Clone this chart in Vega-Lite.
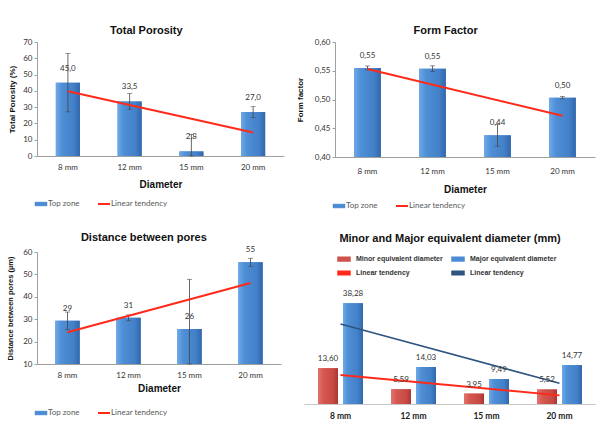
{
  "$schema": "https://vega.github.io/schema/vega-lite/v6.json",
  "padding": {"left": 6, "top": 25, "right": 0, "bottom": 0},
  "background": "#ffffff",
  "config": {
    "font": "Liberation Sans",
    "view": {"stroke": null},
    "axis": {"grid": false, "labelFont": "Lato", "labelFontSize": 8, "labelColor": "#333", "domainColor": "#a0a0a0", "tickColor": "#a0a0a0", "tickSize": 3, "titleFont": "Liberation Sans", "titleFontWeight": "bold", "titleColor": "#111"},
    "legend": {"labelFont": "Lato", "labelColor": "#595959", "labelFontSize": 8},
    "title": {"font": "Liberation Sans", "fontWeight": "bold", "fontSize": 11, "color": "#111"}
  },
  "resolve": {"scale": {"color": "independent"}, "legend": {"color": "independent"}},
  "spacing": 22,
  "vconcat": [
    {
      "spacing": 12,
      "resolve": {"scale": {"color": "independent"}, "legend": {"color": "independent"}},
      "hconcat": [
        {
          "width": 247, "height": 114,
          "title": {"text": "Total Porosity", "offset": 2, "frame": "bounds"},
          "data": {"values": [
            {"d": "8 mm", "v": 45.0, "e": 17.9},
            {"d": "12 mm", "v": 33.5, "e": 4.8},
            {"d": "15 mm", "v": 2.8, "e": 10.5},
            {"d": "20 mm", "v": 27.0, "e": 3.3}
          ]},
          "transform": [{"calculate": "replace(format(datum.v, '.1f'), '.', ',')", "as": "lab"}],
          "encoding": {
            "x": {"field": "d", "type": "nominal", "sort": null,
              "scale": {"domain": ["8 mm", "12 mm", "15 mm", "20 mm"], "paddingInner": 0.61, "paddingOuter": 0.305},
              "axis": {"title": "Diameter", "titleFontSize": 10, "labelAngle": 0, "ticks": false, "labelPadding": 7, "titlePadding": 8}},
            "y": {"field": "v", "type": "quantitative", "scale": {"domain": [0, 70], "clamp": true},
                  "axis": {"title": "Total Porosity (%)", "titleFontSize": 8, "values": [0, 10, 20, 30, 40, 50, 60, 70], "titlePadding": 6}}
          },
          "layer": [
            {"mark": {"type": "bar"},
             "encoding": {
               "color": {"datum": "Top zone", "type": "nominal",
                 "scale": {"domain": ["Top zone", "Linear tendency"], "range": ["#4a8bd3", "#ff2a1a"]},
                 "legend": {"orient": "bottom", "direction": "horizontal", "title": null, "symbolSize": 144, "columnPadding": 14, "labelOffset": 3, "offset": 11,
                   "encode": {"symbols": {"update": {
                     "shape": {"signal": "datum.value == 'Top zone' ? 'M-1,-0.32H1V0.32H-1Z' : 'M-1,0H1'"},
                     "fill": {"signal": "datum.value == 'Top zone' ? '#4a8bd3' : 'transparent'"},
                     "stroke": {"signal": "datum.value == 'Top zone' ? '#3a70b5' : '#ff2a1a'"},
                     "strokeWidth": {"signal": "datum.value == 'Top zone' ? 0.5 : 2"}}}}}}
             }},
            {"mark": {"type": "bar", "fill": {"gradient": "linear", "x1": 0, "x2": 1, "y1": 0, "y2": 0, "stops": [{"offset": 0, "color": "#6ea9e8"}, {"offset": 0.25, "color": "#4f8fd6"}, {"offset": 0.75, "color": "#4280c8"}, {"offset": 1, "color": "#3266ab"}]}}},
            {"mark": {"type": "errorbar", "color": "#444", "thickness": 0.8, "ticks": {"size": 5}},
             "encoding": {"yError": {"field": "e"}}},
            {"data": {"values": [{"d": "8 mm", "t": 39.78}, {"d": "20 mm", "t": 14.37}]},
             "mark": {"type": "line", "strokeWidth": 2},
             "encoding": {"y": {"field": "t", "type": "quantitative", "title": "Total Porosity (%)"}, "color": {"datum": "Linear tendency", "type": "nominal"}}},
            {"mark": {"type": "text", "dy": -14, "font": "Lato", "fontSize": 8, "color": "#333", "baseline": "middle"},
             "encoding": {"text": {"field": "lab", "type": "nominal"}}}
          ]
        },
        {
          "width": 260, "height": 115,
          "title": {"text": "Form Factor", "offset": 2, "frame": "bounds"},
          "data": {"values": [
            {"d": "8 mm", "v": 0.5548, "e": 0.0035},
            {"d": "12 mm", "v": 0.5536, "e": 0.005},
            {"d": "15 mm", "v": 0.4377, "e": 0.019},
            {"d": "20 mm", "v": 0.5032, "e": 0.002}
          ]},
          "transform": [{"calculate": "replace(format(datum.v, '.2f'), '.', ',')", "as": "lab"}],
          "encoding": {
            "x": {"field": "d", "type": "nominal", "sort": null,
              "scale": {"domain": ["8 mm", "12 mm", "15 mm", "20 mm"], "paddingInner": 0.59, "paddingOuter": 0.295},
              "axis": {"title": "Diameter", "titleFontSize": 10, "labelAngle": 0, "ticks": false, "labelPadding": 10, "titlePadding": 9}},
            "y": {"field": "v", "type": "quantitative", "scale": {"domain": [0.4, 0.6], "zero": false, "clamp": true},
                  "axis": {"title": "Form factor", "titleFontSize": 8, "values": [0.4, 0.45, 0.5, 0.55, 0.6], "format": ".2f", "labelExpr": "replace(datum.label, '.', ',')", "titlePadding": 10}}
          },
          "layer": [
            {"mark": {"type": "bar"},
             "encoding": {
               "y2": {"datum": 0.4},
               "color": {"datum": "Top zone", "type": "nominal",
                 "scale": {"domain": ["Top zone", "Linear tendency"], "range": ["#4a8bd3", "#ff2a1a"]},
                 "legend": {"orient": "bottom", "direction": "horizontal", "title": null, "symbolSize": 144, "columnPadding": 14, "labelOffset": 3, "offset": 8,
                   "encode": {"symbols": {"update": {
                     "shape": {"signal": "datum.value == 'Top zone' ? 'M-1,-0.32H1V0.32H-1Z' : 'M-1,0H1'"},
                     "fill": {"signal": "datum.value == 'Top zone' ? '#4a8bd3' : 'transparent'"},
                     "stroke": {"signal": "datum.value == 'Top zone' ? '#3a70b5' : '#ff2a1a'"},
                     "strokeWidth": {"signal": "datum.value == 'Top zone' ? 0.5 : 2"}}}}}}
             }},
            {"mark": {"type": "bar", "fill": {"gradient": "linear", "x1": 0, "x2": 1, "y1": 0, "y2": 0, "stops": [{"offset": 0, "color": "#6ea9e8"}, {"offset": 0.25, "color": "#4f8fd6"}, {"offset": 0.75, "color": "#4280c8"}, {"offset": 1, "color": "#3266ab"}]}},
             "encoding": {"y2": {"datum": 0.4}}},
            {"mark": {"type": "errorbar", "color": "#444", "thickness": 0.8, "ticks": {"size": 5}},
             "encoding": {"yError": {"field": "e"}}},
            {"data": {"values": [{"d": "8 mm", "t": 0.5529}, {"d": "20 mm", "t": 0.4717}]},
             "mark": {"type": "line", "strokeWidth": 2},
             "encoding": {"y": {"field": "t", "type": "quantitative", "title": "Form factor"}, "color": {"datum": "Linear tendency", "type": "nominal"}}},
            {"mark": {"type": "text", "dy": -12, "font": "Lato", "fontSize": 8, "color": "#333", "baseline": "middle"},
             "encoding": {"text": {"field": "lab", "type": "nominal"}}}
          ]
        }
      ]
    },
    {
      "spacing": 23,
      "resolve": {"scale": {"color": "independent"}, "legend": {"color": "independent"}},
      "hconcat": [
        {
          "width": 244, "height": 112,
          "title": {"text": "Distance between pores", "offset": 3, "frame": "bounds"},
          "data": {"values": [
            {"d": "8 mm", "v": 29.3, "e": 3.9},
            {"d": "12 mm", "v": 30.6, "e": 1.3},
            {"d": "15 mm", "v": 25.6, "e": 22.2},
            {"d": "20 mm", "v": 55.4, "e": 1.8}
          ]},
          "encoding": {
            "x": {"field": "d", "type": "nominal", "sort": null,
              "scale": {"domain": ["8 mm", "12 mm", "15 mm", "20 mm"], "paddingInner": 0.6, "paddingOuter": 0.3},
              "axis": {"title": "Diameter", "titleFontSize": 10, "labelAngle": 0, "ticks": false, "labelPadding": 7, "titlePadding": 4}},
            "y": {"field": "v", "type": "quantitative", "scale": {"domain": [10, 60], "zero": false, "clamp": true},
                  "axis": {"title": "Distance between pores  (µm)", "titleFontSize": 7.5, "values": [10, 20, 30, 40, 50, 60], "titlePadding": 8}}
          },
          "layer": [
            {"mark": {"type": "bar"},
             "encoding": {
               "y2": {"datum": 10},
               "color": {"datum": "Top zone", "type": "nominal",
                 "scale": {"domain": ["Top zone", "Linear tendency"], "range": ["#4a8bd3", "#ff2a1a"]},
                 "legend": {"orient": "bottom", "direction": "horizontal", "title": null, "symbolSize": 144, "columnPadding": 14, "labelOffset": 3, "offset": 16,
                   "encode": {"symbols": {"update": {
                     "shape": {"signal": "datum.value == 'Top zone' ? 'M-1,-0.32H1V0.32H-1Z' : 'M-1,0H1'"},
                     "fill": {"signal": "datum.value == 'Top zone' ? '#4a8bd3' : 'transparent'"},
                     "stroke": {"signal": "datum.value == 'Top zone' ? '#3a70b5' : '#ff2a1a'"},
                     "strokeWidth": {"signal": "datum.value == 'Top zone' ? 0.5 : 2"}}}}}}
             }},
            {"mark": {"type": "bar", "fill": {"gradient": "linear", "x1": 0, "x2": 1, "y1": 0, "y2": 0, "stops": [{"offset": 0, "color": "#6ea9e8"}, {"offset": 0.25, "color": "#4f8fd6"}, {"offset": 0.75, "color": "#4280c8"}, {"offset": 1, "color": "#3266ab"}]}},
             "encoding": {"y2": {"datum": 10}}},
            {"mark": {"type": "errorbar", "color": "#444", "thickness": 0.8, "ticks": {"size": 5}},
             "encoding": {"yError": {"field": "e"}}},
            {"data": {"values": [{"d": "8 mm", "t": 24.2}, {"d": "20 mm", "t": 46.2}]},
             "mark": {"type": "line", "strokeWidth": 2},
             "encoding": {"y": {"field": "t", "type": "quantitative", "title": "Distance between pores  (µm)"}, "color": {"datum": "Linear tendency", "type": "nominal"}}},
            {"mark": {"type": "text", "dy": -12, "font": "Lato", "fontSize": 8, "color": "#333", "baseline": "middle"},
             "encoding": {"text": {"field": "v", "type": "quantitative", "format": ".0f"}}}
          ]
        },
        {
          "width": 292, "height": 152,
          "title": {"text": "Minor and Major equivalent diameter (mm)", "offset": 8, "frame": "group"},
          "data": {"values": [
            {"d": "8 mm", "s": "Minor equivalent diameter", "v": 13.60},
            {"d": "8 mm", "s": "Major equivalent diameter", "v": 38.28},
            {"d": "12 mm", "s": "Minor equivalent diameter", "v": 5.59},
            {"d": "12 mm", "s": "Major equivalent diameter", "v": 14.03},
            {"d": "15 mm", "s": "Minor equivalent diameter", "v": 3.95},
            {"d": "15 mm", "s": "Major equivalent diameter", "v": 9.49},
            {"d": "20 mm", "s": "Minor equivalent diameter", "v": 5.52},
            {"d": "20 mm", "s": "Major equivalent diameter", "v": 14.77}
          ]},
          "transform": [{"calculate": "replace(format(datum.v, '.2f'), '.', ',')", "as": "lab"}],
          "encoding": {
            "x": {"field": "d", "type": "nominal", "sort": null,
              "scale": {"domain": ["8 mm", "12 mm", "15 mm", "20 mm"], "paddingInner": 0.384, "paddingOuter": 0.192},
              "axis": {"title": null, "labelAngle": 0, "ticks": false, "labelPadding": 7, "labelFont": "Lato", "labelFontWeight": "bold", "labelFontSize": 8.5, "labelColor": "#222", "domainColor": "#c8c8c8"}},
            "y": {"field": "v", "type": "quantitative", "scale": {"domain": [0, 57.8]}, "axis": null}
          },
          "layer": [
            {"mark": {"type": "bar"},
             "encoding": {
               "xOffset": {"field": "s", "type": "nominal", "scale": {"domain": ["Minor equivalent diameter", "Major equivalent diameter"], "paddingInner": 0.2}},
               "color": {"field": "s", "type": "nominal",
                 "scale": {"domain": ["Minor equivalent diameter", "Major equivalent diameter", "Minor linear tendency", "Major linear tendency"], "range": ["#d0504c", "#4a8bd3", "#ff2a1a", "#2e5480"]},
                 "legend": {"orient": "none", "legendX": 33, "legendY": 0, "direction": "horizontal", "columns": 2, "title": null, "labelExpr": "indexof(datum.label, 'linear') >= 0 ? 'Linear tendency' : datum.label", "labelFont": "Liberation Sans", "labelFontWeight": "bold", "labelColor": "#333", "labelFontSize": 7, "symbolType": "M-1,-0.3H1V0.3H-1Z", "symbolSize": 144, "columnPadding": 6, "rowPadding": 2, "labelOffset": 5}}
             }},
            {"transform": [{"filter": "datum.s == 'Minor equivalent diameter'"}],
             "mark": {"type": "bar", "fill": {"gradient": "linear", "x1": 0, "x2": 1, "y1": 0, "y2": 0, "stops": [{"offset": 0, "color": "#e2736e"}, {"offset": 0.3, "color": "#d4564f"}, {"offset": 0.75, "color": "#c84a45"}, {"offset": 1, "color": "#ad3532"}]}},
             "encoding": {"xOffset": {"field": "s", "type": "nominal"}}},
            {"transform": [{"filter": "datum.s == 'Major equivalent diameter'"}],
             "mark": {"type": "bar", "fill": {"gradient": "linear", "x1": 0, "x2": 1, "y1": 0, "y2": 0, "stops": [{"offset": 0, "color": "#6ea9e8"}, {"offset": 0.25, "color": "#4f8fd6"}, {"offset": 0.75, "color": "#4280c8"}, {"offset": 1, "color": "#3266ab"}]}},
             "encoding": {"xOffset": {"field": "s", "type": "nominal"}}},
            {"data": {"values": [
               {"d": "8 mm", "s": "Minor linear tendency", "t": 11.05},
               {"d": "20 mm", "s": "Minor linear tendency", "t": 3.28}
             ]},
             "mark": {"type": "line", "strokeWidth": 2},
             "encoding": {"y": {"field": "t", "type": "quantitative"}, "color": {"field": "s", "type": "nominal"}}},
            {"data": {"values": [
               {"d": "8 mm", "s": "Major linear tendency", "t": 30.4},
               {"d": "20 mm", "s": "Major linear tendency", "t": 7.88}
             ]},
             "mark": {"type": "line", "strokeWidth": 1.5},
             "encoding": {"y": {"field": "t", "type": "quantitative"}, "color": {"field": "s", "type": "nominal"}}},
            {"mark": {"type": "text", "dy": -9, "font": "Lato", "fontSize": 8, "color": "#333", "baseline": "middle"},
             "encoding": {"xOffset": {"field": "s", "type": "nominal"}, "text": {"field": "lab", "type": "nominal"}}}
          ]
        }
      ]
    }
  ]
}
